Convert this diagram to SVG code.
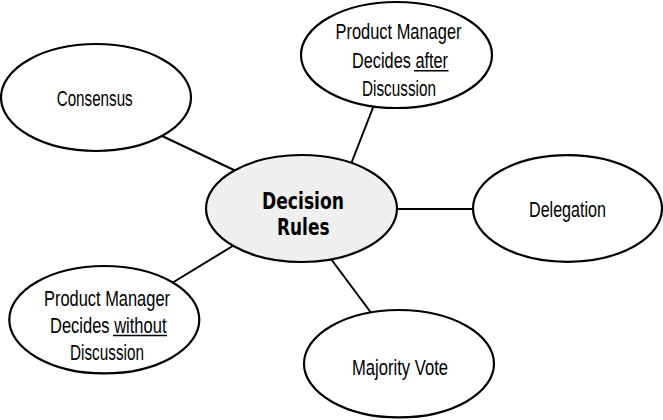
<svg xmlns="http://www.w3.org/2000/svg" width="663" height="420" viewBox="0 0 663 420">
<style>
.n{fill:#fff;stroke:#000;stroke-width:2.2}
.c{fill:#efefef;stroke:#000;stroke-width:2.2}
.t{font-family:"Liberation Sans",Arial,sans-serif;font-size:22.5px;fill:#000}
.b{font-family:"DejaVu Sans","Liberation Sans",Arial,sans-serif;font-size:23px;font-weight:bold;fill:#000}
.e line{stroke:#000;stroke-width:2}
.u{stroke:#000;stroke-width:1.5}
</style>
<rect width="663" height="420" fill="#fff"/>
<g id="connectors" class="e">
<line x1="160" y1="135" x2="236" y2="171"/>
<line x1="374" y1="105" x2="351" y2="164"/>
<line x1="396" y1="209" x2="474" y2="209"/>
<line x1="172" y1="283" x2="236" y2="244"/>
<line x1="331" y1="259" x2="372" y2="314"/>
</g>
<g id="center">
<ellipse class="c" cx="301.5" cy="208.5" rx="95.5" ry="53.5"/>
<text class="b" x="262" y="208.7" textLength="82" lengthAdjust="spacingAndGlyphs">Decision</text>
<text class="b" x="277" y="235.3" textLength="52.5" lengthAdjust="spacingAndGlyphs">Rules</text>
</g>
<g id="consensus">
<ellipse class="n" cx="96" cy="97.5" rx="95" ry="53.5"/>
<text class="t" x="56.7" y="106" textLength="76" lengthAdjust="spacingAndGlyphs">Consensus</text>
</g>
<g id="pm-after">
<ellipse class="n" cx="396.5" cy="55" rx="95.5" ry="53"/>
<text class="t" x="335.5" y="39" textLength="126" lengthAdjust="spacingAndGlyphs">Product Manager</text>
<text class="t" x="352" y="68" textLength="96" lengthAdjust="spacingAndGlyphs">Decides after</text>
<line class="u" x1="414" y1="70.8" x2="448.5" y2="70.8"/>
<text class="t" x="362" y="96" textLength="74" lengthAdjust="spacingAndGlyphs">Discussion</text>
</g>
<g id="delegation">
<ellipse class="n" cx="567.5" cy="208.5" rx="94.5" ry="53.3"/>
<text class="t" x="529" y="217" textLength="77" lengthAdjust="spacingAndGlyphs">Delegation</text>
</g>
<g id="pm-without">
<ellipse class="n" cx="104.3" cy="319.7" rx="95" ry="53.7"/>
<text class="t" x="44" y="305.5" textLength="126" lengthAdjust="spacingAndGlyphs">Product Manager</text>
<text class="t" x="50" y="332.5" textLength="116.5" lengthAdjust="spacingAndGlyphs">Decides without</text>
<line class="u" x1="113" y1="335.5" x2="167" y2="335.5"/>
<text class="t" x="70" y="360" textLength="74" lengthAdjust="spacingAndGlyphs">Discussion</text>
</g>
<g id="majority">
<ellipse class="n" cx="399" cy="363.7" rx="95" ry="53.7"/>
<text class="t" x="352" y="375" textLength="96" lengthAdjust="spacingAndGlyphs">Majority Vote</text>
</g>
</svg>
